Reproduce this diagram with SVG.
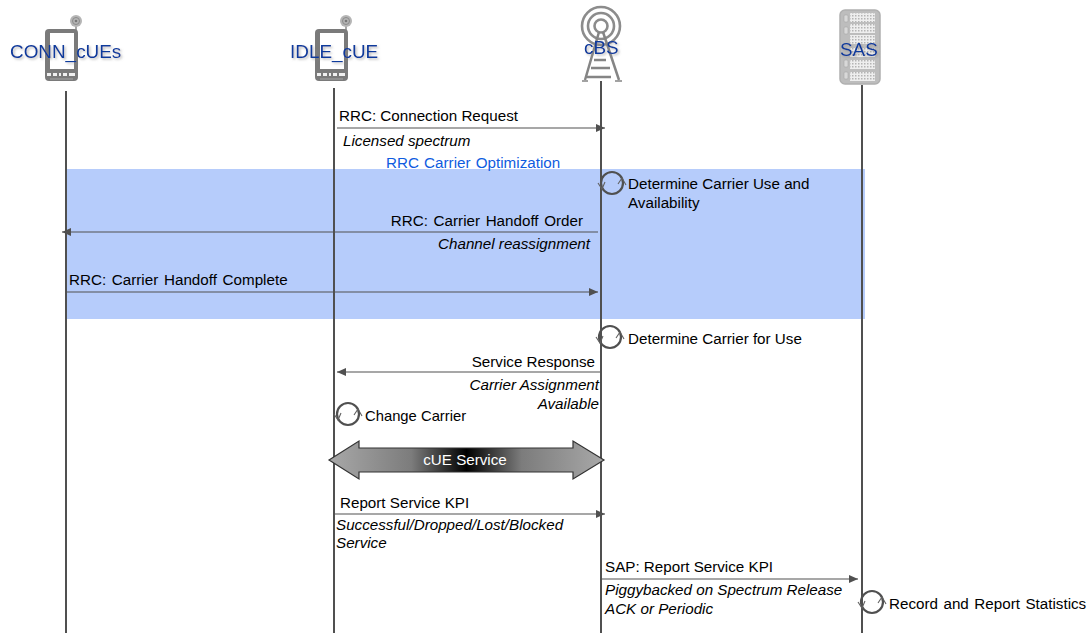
<svg xmlns="http://www.w3.org/2000/svg" width="1090" height="633" viewBox="0 0 1090 633">
<style>
text{font-family:"Liberation Sans",Arial,sans-serif;font-size:15.2px;fill:#000}
.i{font-style:italic}
.n{font-size:18.9px;fill:#0a3a9c;filter:url(#sh)}
.l{stroke:#505050;stroke-width:2;fill:none}
.a{stroke:#505050;stroke-width:1.2;fill:none;marker-end:url(#ah)}
.c{stroke:#505050;stroke-width:2.2;fill:none}
.t{stroke:#606060;stroke-width:1.1;fill:none}
.r{fill:url(#dots)}
.s{fill:#d8d8d8;stroke:#a8a8a8;stroke-width:.6}
</style>
<defs>
<filter id="sh" x="-10%" y="-20%" width="120%" height="150%"><feDropShadow dx="1.500" dy="1.500" stdDeviation="1.200" flood-color="#888" flood-opacity=".6"/></filter>
<pattern id="dots" width="3" height="3" patternUnits="userSpaceOnUse"><rect width="3" height="3" fill="#eeeeee"/><rect width="1.500" height="1.500" fill="#b4b4b4"/></pattern>
<marker id="ah" markerUnits="userSpaceOnUse" markerWidth="10" markerHeight="8" refX="9" refY="4" orient="auto"><path d="M0 0L9 4L0 8Z" fill="#505050"/></marker>
<linearGradient id="g" x1="0" x2="1" y1="0" y2="0"><stop offset="0" stop-color="#a8a8a8"/><stop offset=".3" stop-color="#7c7c7c"/><stop offset=".5" stop-color="#000"/><stop offset=".7" stop-color="#7c7c7c"/><stop offset="1" stop-color="#a8a8a8"/></linearGradient>
<g id="phone">
<path d="M76 22V32" stroke="#8a8a8a" stroke-width="1.500"/>
<circle cx="76" cy="21" r="6" fill="#b5b5b5"/><circle cx="76" cy="21" r="3.500" fill="none" stroke="#8a8a8a"/><circle cx="76" cy="21" r="1.300" fill="#777"/>
<rect x="45" y="29" width="33" height="52" rx="4" fill="#7a7a7a"/>
<rect x="50" y="33" width="24" height="36" fill="#fff"/>
<path d="M47 74.500h4M53 74.500h4M59 74.500h2M63 74.500h4M69 74.500h6" stroke="#f0f0f0" stroke-width="3"/>
<path d="M50 79h23" stroke="#b0b0b0" stroke-width=".8"/>
</g>
<g id="loop"><circle cx="0" cy="0" r="11" class="c"/><path d="M-14 0L-10 6L-7 -1M6 1L10 -5L14 2" class="t"/></g>
</defs>
<rect x="65" y="169" width="800" height="150" fill="#b6ccfb"/>
<g id="conn_cues"><use href="#phone"/><text class="n" x="10" y="58">CONN_cUEs</text></g>
<g id="idle_cue"><use href="#phone" x="270"/><text class="n" x="290" y="58">IDLE_cUE</text></g>
<g id="cbs">
<g fill="none" stroke="#8c8c8c" stroke-width="2.600"><circle cx="601" cy="26" r="19"/><circle cx="601" cy="26" r="13"/><circle cx="601" cy="26" r="6.500"/></g>
<path d="M599 32L585 80M603 32L619 80M594 60h12M591 68h19M587 77h24" stroke="#858585" stroke-width="2.500" fill="none"/>
<path d="M582 81h6M615 81h7" stroke="#858585" stroke-width="1.500"/>
<text class="n" x="584" y="54">cBS</text></g>
<g id="sas"><rect x="840" y="10" width="40" height="74" rx="5" fill="#bdbdbd" stroke="#b0b0b0" stroke-width="1.500"/>
<rect class="r" x="850" y="13" width="25" height="9"/><rect class="r" x="850" y="24" width="25" height="9"/><rect class="r" x="850" y="35" width="25" height="9"/><rect class="r" x="850" y="48" width="25" height="9"/><rect class="r" x="850" y="60" width="25" height="9"/><rect class="r" x="850" y="72" width="25" height="9"/>
<rect class="s" x="844" y="15" width="4" height="7" rx="1"/><rect class="s" x="844" y="27" width="4" height="7" rx="1"/><rect class="s" x="844" y="60" width="4" height="7" rx="1"/><rect class="s" x="844" y="72" width="4" height="7" rx="1"/>
<text class="n" x="840" y="56">SAS</text></g>
<g id="connectors">
<path class="l" d="M66 91V633M334 88V633M601 81V633M862 85V633"/>
<path class="a" d="M337 128H605"/>
<path class="a" d="M598 232H62"/>
<path class="a" d="M66 292H598"/>
<path class="a" d="M602 372H337"/>
<path class="a" d="M334 514H605"/>
<path class="a" d="M601 579H858"/>
<use href="#loop" x="612" y="183"/>
<use href="#loop" x="610" y="337"/>
<use href="#loop" x="348" y="414"/>
<use href="#loop" x="872" y="602"/>
</g>
<g id="service"><path d="M329 460L359 441V448H573V441L604 460L573 479V472H359V479Z" fill="url(#g)" stroke="#333" stroke-width="1.200"/><text x="465" y="465" text-anchor="middle" style="fill:#fff">cUE Service</text></g>
<text x="339" y="121">RRC: Connection Request</text>
<text class="i" x="343" y="146">Licensed spectrum</text>
<text x="386" y="168" style="fill:#0f5ce0;word-spacing:1px">RRC Carrier Optimization</text>
<text x="628" y="189">Determine Carrier Use and</text>
<text x="628" y="208">Availability</text>
<text x="583" y="226" text-anchor="end" style="word-spacing:1.400px">RRC: Carrier Handoff Order</text>
<text class="i" x="590" y="249" text-anchor="end">Channel reassignment</text>
<text x="69" y="285" style="word-spacing:1.500px">RRC: Carrier Handoff Complete</text>
<text x="628" y="344">Determine Carrier for Use</text>
<text x="595" y="367" text-anchor="end">Service Response</text>
<text class="i" x="599" y="390" text-anchor="end">Carrier Assignment</text>
<text class="i" x="599" y="409" text-anchor="end">Available</text>
<text x="365" y="421" style="font-size:14.800px">Change Carrier</text>
<text x="340" y="508">Report Service KPI</text>
<text class="i" x="336" y="530">Successful/Dropped/Lost/Blocked</text>
<text class="i" x="336" y="548">Service</text>
<text x="605" y="572">SAP: Report Service KPI</text>
<text class="i" x="605" y="595">Piggybacked on Spectrum Release</text>
<text class="i" x="605" y="614">ACK or Periodic</text>
<text x="889" y="609" style="word-spacing:1.300px">Record and Report Statistics</text>
</svg>
